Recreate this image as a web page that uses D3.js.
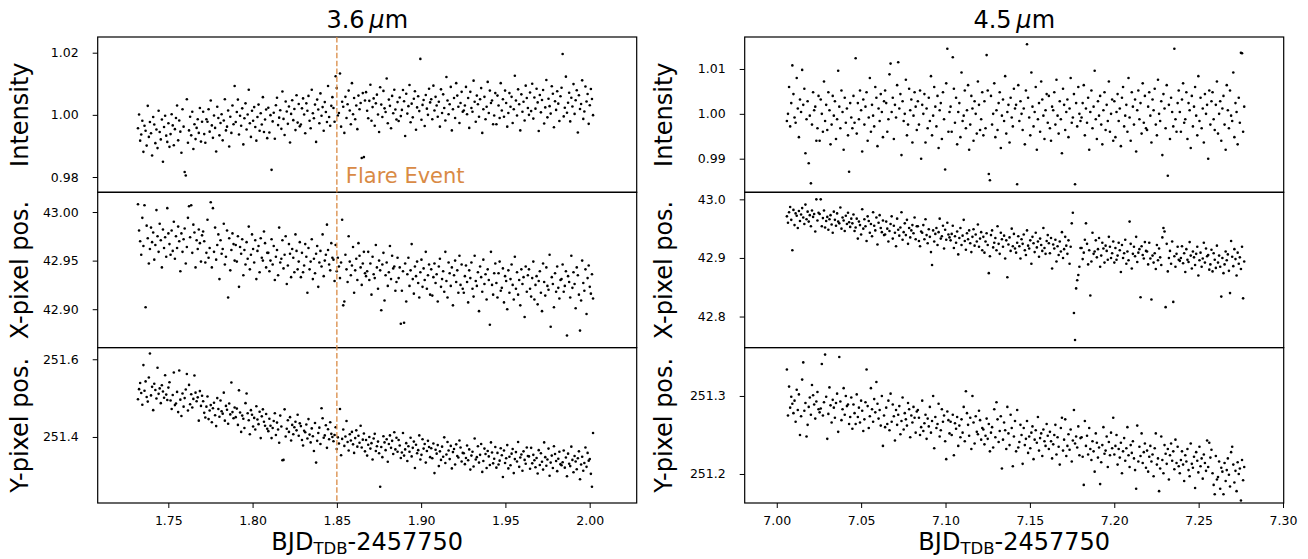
<!DOCTYPE html>
<html>
<head>
<meta charset="utf-8">
<script src="https://cdn.jsdelivr.net/npm/d3@7"></script>
<style>
  body { margin: 0; background: #fff; }
  text { font-family: "DejaVu Sans", sans-serif; }
</style>
</head>
<body>
<div id="chart"></div>
<script>
// exposure window of each channel (BJD_TDB - 2457750), constant cadence
const tSpan36 = [1.732, 2.002];
const tSpan45 = [7.006, 7.277];

// 3.6 micron light curve and centroids
const flux36 = [
  0.9957,1.0001,0.9917,0.9937,0.9981,0.9881,0.9965,0.9949,0.9901,1.0029,0.9929,0.9977,0.9941,0.9869,0.9993,0.9969,0.9909,0.9953,0.9893,1.0013,0.9945,0.9921,0.9985,0.9849,0.9961,0.9997,0.9933,0.9913,0.9973,0.9897,
  0.9938,1.0002,0.9966,0.9902,0.9954,0.9990,1.0030,0.9918,0.9982,0.9946,0.9878,1.0018,0.9962,0.9816,0.9805,1.0050,0.9910,0.9950,0.9994,0.9934,1.0010,0.9890,0.9970,0.9922,0.9958,0.9986,0.9942,1.0022,0.9914,0.9978,
  1.0010,0.9938,0.9910,0.9986,0.9978,1.0018,0.9946,1.0046,0.9966,0.9926,0.9998,0.9958,0.9882,1.0026,0.9990,0.9934,0.9974,1.0002,0.9918,0.9982,1.0050,0.9950,0.9962,1.0014,0.9898,0.9994,0.9942,1.0030,0.9970,1.0093,
  0.9977,1.0009,1.0049,0.9937,0.9997,0.9965,1.0021,0.9905,0.9989,1.0037,0.9953,1.0001,1.0081,0.9973,0.9929,1.0013,0.9981,1.0025,0.9961,0.9917,0.9993,1.0033,0.9949,1.0005,0.9969,1.0057,0.9945,0.9985,1.0017,0.9925,
  1.0023,0.9943,0.9999,0.9823,0.9979,1.0007,0.9923,1.0031,1.0055,0.9967,0.9991,1.0015,0.9955,1.0075,0.9987,0.9935,1.0043,1.0011,0.9971,1.0027,0.9911,1.0003,1.0047,0.9983,1.0019,0.9951,1.0063,0.9975,1.0035,0.9963,
  0.9969,1.0021,1.0053,1.0001,0.9941,1.0037,1.0013,1.0061,0.9981,0.9957,1.0081,1.0005,0.9989,1.0033,0.9913,1.0049,1.0017,0.9973,1.0069,0.9997,1.0025,0.9949,1.0041,1.0009,0.9977,1.0093,0.9993,0.9965,1.0029,1.0057,
  1.0022,0.9978,1.0124,1.0086,0.9998,1.0006,1.0133,0.9962,1.0042,1.0026,0.9942,1.0058,0.9990,1.0034,1.0078,1.0014,0.9970,1.0102,1.0002,1.0054,0.9986,1.0030,0.9954,1.0062,1.0018,1.0038,0.9861,1.0070,0.9864,1.0046,
  1.0073,1.0013,0.9989,1.0045,1.0097,0.9981,1.0025,1.0053,0.9965,1.0037,1.0065,1.0001,0.9945,1.0089,1.0033,0.9993,1.0077,1.0021,1.0009,1.0117,0.9973,1.0049,1.0029,0.9957,1.0061,1.0005,1.0081,1.0017,0.9985,1.0041,
  0.9980,1.0056,0.9996,1.0016,1.0080,1.0044,0.9932,1.0068,1.0004,1.0028,1.0096,0.9976,1.0036,0.9992,1.0052,1.0076,0.9952,1.0024,1.0060,1.0012,1.0180,0.9984,1.0032,1.0048,0.9964,1.0064,1.0020,1.0000,1.0084,1.0040,
  1.0050,0.9986,1.0094,1.0014,1.0058,1.0030,0.9994,1.0042,0.9962,1.0082,1.0006,1.0066,1.0022,0.9982,1.0122,1.0046,1.0002,1.0034,1.0090,0.9950,1.0018,1.0054,0.9990,1.0102,1.0062,1.0026,0.9974,1.0038,1.0074,1.0010,
  1.0014,1.0030,1.0090,1.0002,1.0054,0.9958,1.0074,1.0022,1.0010,1.0110,1.0042,0.9978,1.0062,1.0034,0.9994,1.0050,1.0086,0.9942,1.0018,1.0058,0.9986,1.0026,1.0106,1.0006,1.0078,1.0038,1.0046,0.9970,0.9998,1.0070,
  0.9970,1.0062,1.0030,0.9990,1.0102,1.0014,1.0050,0.9994,1.0078,1.0038,0.9962,1.0006,1.0070,1.0026,1.0058,0.9974,1.0018,1.0126,1.0046,0.9998,1.0082,1.0034,0.9950,1.0066,1.0010,1.0042,0.9982,1.0094,1.0054,1.0022,
  1.0000,1.0072,1.0012,1.0100,0.9988,1.0056,1.0020,1.0084,1.0040,0.9948,1.0064,1.0008,1.0048,1.0080,0.9972,1.0024,1.0112,0.9992,1.0052,1.0028,1.0004,1.0092,1.0068,0.9960,1.0044,1.0016,1.0076,1.0036,0.9980,1.0060,
  1.0087,1.0196,0.9995,1.0023,1.0123,1.0007,1.0039,1.0071,0.9979,1.0055,1.0027,1.0099,1.0003,1.0047,1.0079,0.9943,1.0063,1.0019,1.0035,1.0111,0.9987,1.0011,1.0091,1.0043,1.0067,0.9971,1.0031,1.0083,1.0051,0.9999
];
const xpos36 = [
  43.008,42.981,42.970,42.956,42.994,42.965,43.007,42.902,42.986,42.973,42.947,42.962,42.984,42.969,42.979,42.951,42.966,43.002,42.975,42.959,42.988,42.971,42.943,42.982,42.963,42.974,42.954,43.004,42.978,42.967,
  42.956,42.981,42.960,42.990,42.952,42.975,42.963,42.985,42.970,42.939,42.978,42.959,42.972,42.983,42.947,42.964,42.994,43.006,42.974,43.007,42.958,42.987,42.979,42.943,42.971,42.962,42.982,42.968,42.949,42.976,
  42.980,42.970,42.948,42.958,42.992,42.953,42.963,43.010,42.943,43.004,42.959,42.984,42.951,42.966,42.977,42.931,42.971,42.957,42.962,42.988,42.946,42.954,42.981,42.912,42.973,42.940,42.961,42.978,42.967,42.950,
  42.966,42.949,42.975,42.923,42.964,42.957,42.972,42.935,42.961,42.946,42.969,42.952,42.985,42.941,42.956,42.977,42.962,42.948,42.971,42.931,42.960,42.965,42.938,42.973,42.953,42.950,42.980,42.968,42.943,42.958,
  42.958,42.939,42.950,42.972,42.946,42.965,42.930,42.954,42.961,42.935,42.984,42.948,42.952,42.971,42.942,42.956,42.975,42.926,42.945,42.967,42.957,42.933,42.962,42.953,42.938,42.977,42.960,42.941,42.949,42.969,
  42.933,42.958,42.938,42.945,42.967,42.954,42.917,42.963,42.941,42.949,42.972,42.931,42.952,42.937,42.957,42.965,42.923,42.948,42.960,42.944,42.977,42.934,42.950,42.956,42.987,42.961,42.946,42.940,42.968,42.953,
  42.951,42.929,42.966,42.939,42.953,42.944,42.932,42.948,42.992,42.904,42.908,42.956,42.941,42.928,42.975,42.949,42.935,42.945,42.964,42.917,42.940,42.952,42.930,42.968,42.955,42.943,42.925,42.947,42.959,42.937,
  42.934,42.939,42.959,42.930,42.947,42.915,42.954,42.936,42.932,42.966,42.943,42.921,42.950,42.940,42.899,42.946,42.958,42.909,42.935,42.948,42.924,42.938,42.965,42.931,42.955,42.942,42.944,42.919,42.928,42.953,
  42.932,42.943,42.885,42.919,42.939,42.886,42.947,42.908,42.936,42.953,42.924,42.940,42.967,42.931,42.916,42.944,42.934,42.949,42.927,42.912,42.938,42.951,42.923,42.942,42.930,42.959,42.921,42.935,42.946,42.915,
  42.941,42.914,42.933,42.947,42.927,42.936,42.908,42.944,42.952,42.923,42.931,42.939,42.918,42.959,42.929,42.912,42.948,42.937,42.924,42.943,42.904,42.935,42.950,42.928,42.940,42.917,42.955,42.925,42.946,42.921,
  42.917,42.934,42.945,42.928,42.907,42.940,42.932,42.948,42.921,42.913,42.955,42.929,42.924,42.938,42.898,42.944,42.933,42.918,42.951,42.926,42.936,42.910,42.941,42.930,42.884,42.959,42.925,42.915,42.937,42.947,
  42.927,42.912,42.937,42.949,42.919,42.922,42.942,42.907,42.934,42.929,42.900,42.940,42.917,42.931,42.946,42.925,42.910,42.954,42.921,42.938,42.915,42.930,42.904,42.941,42.926,42.933,42.892,42.944,42.918,42.935,
  42.941,42.921,42.913,42.932,42.949,42.910,42.925,42.934,42.905,42.929,42.939,42.917,42.898,42.947,42.928,42.914,42.943,42.924,42.920,42.956,42.882,42.933,42.926,42.902,42.937,42.918,42.944,42.922,42.911,42.930,
  42.931,42.946,42.918,42.924,42.939,42.873,42.934,42.928,42.912,42.955,42.922,42.938,42.926,42.901,42.943,42.935,42.915,42.878,42.909,42.950,42.927,42.919,42.941,42.895,42.932,42.945,42.923,42.916,42.936,42.911
];
const ypos36 = [
  251.497,251.523,251.539,251.513,251.483,251.585,251.519,251.543,251.503,251.491,251.553,251.615,251.507,251.529,251.469,251.537,251.521,251.499,251.578,251.511,251.525,251.487,251.533,251.517,251.501,251.559,251.509,251.495,251.527,251.541,
  251.494,251.472,251.508,251.566,251.482,251.486,251.516,251.464,251.571,251.496,251.454,251.512,251.478,251.500,251.522,251.562,251.468,251.534,251.484,251.510,251.476,251.498,251.558,251.514,251.492,251.502,251.442,251.518,251.480,251.506,
  251.492,251.462,251.450,251.478,251.504,251.446,251.468,251.482,251.438,251.474,251.488,251.456,251.428,251.500,251.472,251.452,251.494,251.466,251.460,251.514,251.442,251.480,251.470,251.434,251.486,251.458,251.540,251.464,251.448,251.476,
  251.451,251.473,251.431,251.520,251.463,251.413,251.455,251.447,251.423,251.487,251.512,251.461,251.443,251.407,251.469,251.457,251.427,251.449,251.419,251.479,251.445,251.433,251.465,251.397,251.453,251.471,251.439,251.429,251.459,251.421,
  251.415,251.447,251.429,251.397,251.423,251.441,251.461,251.405,251.437,251.419,251.385,251.455,251.427,251.340,251.341,251.471,251.401,251.421,251.443,251.413,251.451,251.391,251.431,251.407,251.425,251.439,251.417,251.457,251.403,251.435,
  251.428,251.392,251.378,251.416,251.412,251.432,251.396,251.446,251.406,251.386,251.422,251.402,251.364,251.436,251.334,251.390,251.410,251.424,251.382,251.474,251.448,251.398,251.404,251.430,251.372,251.420,251.394,251.438,251.408,251.400,
  251.389,251.405,251.425,251.369,251.399,251.383,251.472,251.353,251.395,251.419,251.377,251.401,251.441,251.387,251.365,251.407,251.391,251.413,251.381,251.359,251.397,251.417,251.375,251.403,251.385,251.429,251.373,251.393,251.409,251.363,
  251.392,251.352,251.380,251.400,251.370,251.384,251.342,251.396,251.408,251.364,251.376,251.388,251.358,251.272,251.374,251.348,251.402,251.386,251.366,251.394,251.336,251.382,251.404,251.372,251.390,251.356,251.412,251.368,251.398,251.362,
  251.392,251.378,251.346,251.360,251.410,251.352,251.368,251.384,251.338,251.376,251.362,251.398,251.350,251.372,251.388,251.320,251.380,251.358,251.366,251.404,251.342,251.354,251.394,251.370,251.382,251.334,251.364,251.390,251.374,251.348,
  251.371,251.345,251.383,251.307,251.367,251.357,251.379,251.325,251.363,251.341,251.375,251.349,251.399,251.333,251.355,251.387,251.365,251.343,251.377,251.319,251.361,251.369,251.329,251.381,251.351,251.347,251.391,251.373,251.337,251.359,
  251.358,251.330,251.346,251.378,251.340,251.368,251.316,251.352,251.362,251.324,251.396,251.342,251.348,251.376,251.334,251.354,251.382,251.310,251.338,251.370,251.356,251.320,251.364,251.350,251.328,251.386,251.360,251.332,251.344,251.374,
  251.321,251.359,251.329,251.339,251.371,251.353,251.297,251.365,251.333,251.345,251.379,251.319,251.349,251.327,251.357,251.369,251.307,251.343,251.361,251.337,251.387,251.323,251.347,251.355,251.313,251.363,251.341,251.331,251.373,251.351,
  251.350,251.318,251.372,251.332,251.354,251.340,251.322,251.346,251.306,251.366,251.328,251.358,251.336,251.316,251.386,251.348,251.326,251.342,251.370,251.300,251.334,251.352,251.320,251.376,251.356,251.338,251.312,251.344,251.362,251.330,
  251.327,251.335,251.365,251.321,251.347,251.299,251.357,251.331,251.325,251.375,251.341,251.309,251.351,251.337,251.317,251.345,251.363,251.291,251.329,251.349,251.313,251.333,251.373,251.323,251.359,251.339,251.343,251.305,251.272,251.410
];

// 4.5 micron light curve and centroids
const flux45 = [
  0.9984,1.0000,1.0060,0.9972,1.0024,1.0108,1.0044,0.9992,0.9980,1.0080,1.0012,0.9948,1.0032,1.0004,1.0098,1.0020,1.0056,0.9912,0.9988,1.0028,0.9890,0.9996,0.9845,0.9976,1.0048,1.0008,1.0016,0.9940,0.9968,1.0040,
  0.9940,1.0032,1.0000,0.9960,1.0072,0.9984,1.0020,0.9964,1.0048,1.0008,0.9932,0.9976,1.0040,0.9996,1.0028,0.9944,0.9988,1.0096,1.0016,0.9968,1.0052,1.0004,0.9920,1.0036,0.9980,1.0012,0.9952,0.9871,1.0024,0.9992,
  0.9968,1.0040,0.9980,1.0124,0.9956,1.0024,0.9988,1.0052,1.0008,0.9916,1.0032,0.9976,1.0016,1.0048,0.9940,0.9992,1.0080,0.9960,1.0020,0.9996,0.9972,1.0060,1.0036,0.9928,1.0012,0.9984,1.0044,1.0004,0.9948,1.0028,
  1.0052,1.0024,0.9960,0.9988,1.0088,1.0112,1.0004,1.0036,0.9944,1.0020,0.9992,1.0064,1.0115,1.0012,1.0044,0.9908,1.0028,0.9984,1.0000,1.0076,0.9952,0.9976,1.0056,1.0008,1.0032,0.9936,0.9996,1.0048,1.0016,0.9964,
  1.0028,0.9976,1.0052,0.9900,1.0020,1.0000,1.0044,0.9936,1.0012,0.9968,1.0036,0.9984,1.0084,0.9952,0.9996,1.0060,1.0016,0.9972,1.0040,0.9924,1.0008,1.0024,0.9944,1.0048,0.9988,0.9876,1.0068,1.0145,0.9960,1.0004,
  1.0016,0.9960,1.0126,1.0056,0.9980,1.0036,0.9932,1.0004,1.0024,0.9948,1.0092,0.9984,0.9996,1.0052,0.9968,1.0008,1.0064,0.9920,0.9976,1.0040,1.0012,0.9940,1.0028,1.0000,0.9956,1.0072,1.0020,0.9964,0.9988,1.0048,
  0.9952,1.0028,0.9968,1.0131,1.0052,0.9866,0.9852,1.0040,0.9976,1.0000,1.0068,0.9948,1.0008,0.9964,1.0024,1.0048,0.9924,0.9996,1.0032,0.9984,1.0084,0.9956,1.0004,1.0020,0.9936,1.0036,0.9992,0.9972,1.0056,1.0012,
  1.0020,0.9843,1.0064,0.9984,1.0028,1.0000,0.9964,1.0012,0.9932,1.0052,1.0155,1.0036,0.9992,0.9952,1.0092,1.0016,0.9972,1.0004,1.0060,0.9920,0.9988,1.0024,0.9960,1.0072,1.0032,0.9996,0.9944,1.0008,1.0044,0.9980,
  1.0040,0.9968,0.9940,1.0016,1.0008,1.0048,0.9976,1.0076,0.9996,0.9956,1.0028,0.9988,0.9912,1.0056,1.0020,0.9964,1.0004,1.0032,0.9948,1.0012,1.0080,0.9980,0.9992,1.0044,0.9843,1.0024,0.9972,1.0060,1.0000,0.9984,
  0.9992,1.0024,1.0064,0.9952,1.0012,0.9980,1.0036,0.9920,1.0004,1.0052,0.9968,1.0016,1.0096,0.9988,0.9944,1.0028,0.9996,1.0040,0.9976,0.9932,1.0008,1.0048,0.9964,1.0020,0.9984,1.0072,0.9960,1.0000,1.0032,0.9940,
  1.0028,0.9948,1.0004,1.0044,0.9984,1.0012,0.9928,1.0036,1.0060,0.9972,0.9996,1.0020,0.9960,1.0080,0.9992,0.9940,1.0048,1.0016,0.9976,1.0032,0.9916,1.0008,1.0052,0.9988,1.0024,0.9956,1.0068,0.9980,1.0040,0.9968,
  0.9964,1.0016,1.0048,0.9996,0.9936,1.0032,1.0008,1.0056,0.9976,0.9952,1.0076,1.0000,0.9984,1.0028,0.9908,1.0044,1.0012,0.9968,1.0064,0.9862,1.0020,0.9944,1.0036,1.0004,0.9972,1.0145,0.9988,0.9960,1.0024,1.0052,
  1.0004,0.9960,1.0032,1.0068,0.9980,0.9988,1.0048,0.9944,1.0024,1.0008,0.9924,1.0040,0.9972,1.0016,1.0060,0.9996,0.9952,1.0084,0.9984,1.0036,0.9968,1.0012,0.9936,1.0044,1.0000,1.0020,0.9900,1.0052,0.9976,1.0028,
  1.0048,0.9988,0.9964,1.0020,1.0072,0.9956,1.0000,1.0028,0.9940,1.0012,1.0040,0.9976,0.9920,1.0064,1.0008,0.9968,1.0052,0.9996,0.9984,1.0092,0.9948,1.0024,1.0004,0.9932,1.0036,0.9980,1.0136,1.0135,0.9960,1.0016
];
const xpos45 = [
  42.971,42.960,42.978,42.987,42.965,42.913,42.982,42.956,42.976,42.972,42.951,42.980,42.963,42.974,42.985,42.969,42.958,42.991,42.966,42.979,42.962,42.973,42.954,42.981,42.970,42.975,42.945,43.000,42.964,42.977,
  42.975,43.000,42.954,42.968,42.981,42.952,42.963,42.970,42.948,42.966,42.973,42.957,42.943,42.979,42.965,42.955,42.976,42.962,42.959,42.986,42.950,42.969,42.964,42.946,42.972,42.958,42.977,42.961,42.953,42.967,
  42.959,42.974,42.946,42.952,42.967,42.933,42.962,42.956,42.940,42.983,42.950,42.966,42.954,42.929,42.971,42.963,42.943,42.958,42.937,42.978,42.955,42.947,42.969,42.923,42.960,42.973,42.951,42.944,42.964,42.939,
  42.940,42.962,42.950,42.928,42.946,42.958,42.971,42.933,42.955,42.943,42.920,42.967,42.948,42.938,42.952,42.978,42.931,42.944,42.959,42.939,42.965,42.924,42.951,42.935,42.947,42.956,42.942,42.969,42.932,42.954,
  42.954,42.929,42.920,42.945,42.943,42.956,42.932,42.966,42.939,42.925,42.949,42.936,42.910,42.888,42.947,42.928,42.941,42.951,42.922,42.944,42.967,42.933,42.937,42.955,42.916,42.948,42.931,42.960,42.940,42.935,
  42.930,42.941,42.955,42.917,42.937,42.926,42.945,42.906,42.934,42.951,42.922,42.938,42.965,42.929,42.914,42.942,42.932,42.947,42.925,42.910,42.936,42.949,42.921,42.940,42.928,42.957,42.919,42.933,42.944,42.913,
  42.936,42.909,42.928,42.942,42.922,42.874,42.903,42.939,42.947,42.918,42.926,42.934,42.913,42.954,42.924,42.907,42.943,42.932,42.919,42.938,42.899,42.930,42.867,42.923,42.935,42.912,42.950,42.920,42.941,42.916,
  42.909,42.926,42.937,42.920,42.899,42.932,42.924,42.940,42.913,42.905,42.947,42.921,42.916,42.930,42.890,42.936,42.925,42.910,42.943,42.918,42.928,42.902,42.933,42.922,42.912,42.951,42.917,42.907,42.929,42.939,
  42.925,42.908,42.934,42.882,42.923,42.916,42.931,42.894,42.920,42.905,42.928,42.911,42.944,42.900,42.915,42.936,42.921,42.907,42.930,42.890,42.919,42.959,42.977,42.806,42.760,42.848,42.862,42.871,42.885,42.917,
  42.917,42.898,42.909,42.931,42.959,42.924,42.889,42.913,42.836,42.894,42.943,42.907,42.911,42.930,42.901,42.915,42.934,42.885,42.904,42.926,42.916,42.892,42.921,42.912,42.897,42.936,42.919,42.900,42.908,42.928,
  42.892,42.917,42.897,42.904,42.926,42.913,42.876,42.922,42.900,42.908,42.931,42.890,42.911,42.896,42.962,42.924,42.882,42.907,42.919,42.903,42.936,42.893,42.909,42.915,42.833,42.920,42.905,42.899,42.927,42.912,
  42.911,42.889,42.926,42.899,42.829,42.904,42.892,42.908,42.881,42.922,42.896,42.916,42.901,42.888,42.935,42.951,42.945,42.816,42.924,42.877,42.900,42.912,42.890,42.928,42.825,42.903,42.885,42.907,42.919,42.897,
  42.895,42.900,42.920,42.891,42.908,42.876,42.915,42.897,42.893,42.927,42.904,42.882,42.911,42.901,42.888,42.907,42.919,42.870,42.896,42.909,42.885,42.899,42.926,42.892,42.916,42.903,42.905,42.880,42.889,42.914,
  42.877,42.908,42.897,42.883,42.921,42.892,42.904,42.885,42.834,42.900,42.874,42.889,42.911,42.896,42.906,42.878,42.840,42.929,42.902,42.886,42.915,42.898,42.870,42.909,42.890,42.901,42.881,42.919,42.831,42.894
];
const ypos45 = [
  251.334,251.275,251.312,251.285,251.299,251.290,251.278,251.294,251.267,251.308,251.282,251.302,251.250,251.274,251.321,251.343,251.281,251.291,251.248,251.263,251.286,251.298,251.276,251.314,251.301,251.289,251.271,251.293,251.305,251.283,
  251.279,251.284,251.341,251.275,251.292,251.353,251.299,251.245,251.277,251.311,251.288,251.266,251.295,251.285,251.272,251.291,251.303,251.254,251.350,251.293,251.269,251.283,251.310,251.276,251.300,251.287,251.289,251.264,251.273,251.298,
  251.258,251.289,251.278,251.264,251.302,251.273,251.285,251.266,251.294,251.281,251.255,251.270,251.292,251.334,251.287,251.259,251.274,251.310,251.283,251.267,251.296,251.279,251.318,251.290,251.271,251.282,251.262,251.300,251.236,251.275,
  251.260,251.285,251.264,251.294,251.256,251.303,251.267,251.289,251.274,251.243,251.282,251.263,251.276,251.287,251.251,251.268,251.298,251.257,251.278,251.270,251.262,251.291,251.283,251.247,251.275,251.266,251.286,251.272,251.253,251.280,
  251.282,251.272,251.250,251.260,251.294,251.255,251.265,251.276,251.245,251.271,251.261,251.286,251.253,251.268,251.300,251.233,251.273,251.259,251.264,251.290,251.248,251.256,251.283,251.267,251.275,251.242,251.219,251.280,251.269,251.252,
  251.267,251.250,251.276,251.224,251.265,251.258,251.273,251.236,251.262,251.247,251.270,251.253,251.286,251.242,251.306,251.278,251.263,251.249,251.272,251.232,251.300,251.266,251.239,251.274,251.254,251.251,251.281,251.269,251.244,251.259,
  251.257,251.238,251.249,251.271,251.245,251.264,251.229,251.253,251.260,251.234,251.283,251.247,251.292,251.270,251.241,251.255,251.274,251.207,251.244,251.266,251.256,251.232,251.286,251.252,251.237,251.276,251.259,251.210,251.248,251.268,
  251.229,251.282,251.234,251.241,251.263,251.250,251.213,251.259,251.237,251.245,251.268,251.227,251.248,251.233,251.253,251.261,251.219,251.244,251.256,251.240,251.273,251.230,251.246,251.252,251.223,251.257,251.242,251.236,251.264,251.249,
  251.232,251.254,251.242,251.220,251.238,251.250,251.263,251.225,251.247,251.235,251.212,251.259,251.272,251.230,251.244,251.270,251.223,251.236,251.251,251.231,251.257,251.216,251.243,251.282,251.239,251.248,251.234,251.261,251.224,251.246,
  251.247,251.222,251.186,251.268,251.236,251.249,251.225,251.259,251.232,251.218,251.242,251.229,251.203,251.252,251.240,251.221,251.234,251.187,251.215,251.237,251.260,251.226,251.230,251.248,251.209,251.241,251.224,251.253,251.233,251.272,
  251.225,251.236,251.250,251.212,251.232,251.221,251.240,251.201,251.229,251.246,251.217,251.233,251.260,251.224,251.209,251.237,251.227,251.242,251.220,251.205,251.181,251.262,251.216,251.235,251.223,251.252,251.214,251.228,251.239,251.208,
  251.230,251.203,251.222,251.236,251.216,251.225,251.197,251.233,251.252,251.212,251.220,251.178,251.207,251.248,251.218,251.201,251.237,251.226,251.213,251.232,251.193,251.224,251.239,251.217,251.229,251.206,251.244,251.214,251.235,251.210,
  251.201,251.218,251.229,251.212,251.191,251.224,251.216,251.232,251.205,251.197,251.239,251.213,251.208,251.222,251.182,251.228,251.217,251.202,251.235,251.210,251.220,251.194,251.225,251.214,251.204,251.243,251.209,251.240,251.221,251.231,
  251.201,251.186,251.174,251.223,251.193,251.196,251.216,251.181,251.208,251.203,251.174,251.214,251.191,251.205,251.220,251.199,251.184,251.228,251.235,251.212,251.189,251.204,251.178,251.215,251.200,251.207,251.166,251.218,251.192,251.209
];

// ticks and labels
const xTicks36 = [1.75, 1.80, 1.85, 1.90, 1.95, 2.00];
const xTicks45 = [7.00, 7.05, 7.10, 7.15, 7.20, 7.25, 7.30];
const fluxTicks36 = [0.98, 1.00, 1.02];
const xposTicks36 = [42.90, 42.95, 43.00];
const yposTicks36 = [251.4, 251.6];
const fluxTicks45 = [0.99, 1.00, 1.01];
const xposTicks45 = [42.8, 42.9, 43.0];
const yposTicks45 = [251.2, 251.3];
const rowLabels = ["Intensity", "X-pixel pos.", "Y-pixel pos."];
const bands = ["3.6", "4.5"];
const flareTime = 1.85;
const flareLabel = "Flare Event";

const width = 1308, height = 559;
const flareColor = "#d98a45";

var svg = d3.select("#chart")
  .append("svg")
    .attr("width", width)
    .attr("height", height);

var rowTops = [37, 192.3, 347.6],
  plotBottom = 503;

var columns = [
  {
    left: 97.7, right: 636.7, span: tSpan36, xDomain: [1.7081, 2.0279], xTicks: xTicks36,
    series: [flux36, xpos36, ypos36],
    yDomains: [[0.97508, 1.02505], [42.8605, 43.0203], [251.230, 251.630]],
    yTicks: [fluxTicks36, xposTicks36, yposTicks36],
    yFormats: [".2f", ".2f", ".1f"],
    band: bands[0], labelX: 27.5
  },
  {
    left: 744.7, right: 1283.7, span: tSpan45, xDomain: [6.9810, 7.3004], xTicks: xTicks45,
    series: [flux45, xpos45, ypos45],
    yDomains: [[0.98251, 1.01713], [42.747, 43.012], [251.1628, 251.362]],
    yTicks: [fluxTicks45, xposTicks45, yposTicks45],
    yFormats: [".2f", ".1f", ".1f"],
    band: bands[1], labelX: 672
  }
];

columns.forEach(function(col, c) {
  var x = d3.scaleLinear()
    .domain(col.xDomain)
    .range([col.left, col.right]);

  col.series.forEach(function(values, k) {
    var top = rowTops[k],
      bottom = k < 2 ? rowTops[k + 1] : plotBottom;

    // sample times, one per exposure
    var n = values.length;
    var times = d3.range(n).map(i => col.span[0] + (col.span[1] - col.span[0]) * i / (n - 1));

    var y = d3.scaleLinear()
      .domain(col.yDomains[k])
      .range([bottom, top]);

    var g = svg.append('g').attr('class', 'panel');

    // points
    g.selectAll('circle')
      .data(values)
      .enter()
      .append('circle')
        .attr('cx', (d, i) => x(times[i]))
        .attr('cy', d => y(d))
        .attr('r', 1.3)
        .style('fill', '#000');

    // y axis
    var yAxis = g.append('g')
      .attr('transform', `translate(${col.left},0)`)
      .call(d3.axisLeft(y)
        .tickValues(col.yTicks[k])
        .tickFormat(d3.format(col.yFormats[k]))
        .tickSize(5)
        .tickPadding(14));
    yAxis.select('.domain').remove();
    yAxis.selectAll('line').style('stroke', '#000').style('stroke-width', 1);
    yAxis.selectAll('text')
      .style('font-family', '"DejaVu Sans", sans-serif')
      .style('font-size', '12.5px')
      .style('fill', '#000');

    // x axis on the bottom row only
    if (k == 2) {
      var xAxis = g.append('g')
        .attr('transform', `translate(0,${plotBottom})`)
        .call(d3.axisBottom(x)
          .tickValues(col.xTicks)
          .tickFormat(d3.format(".2f"))
          .tickSize(5)
          .tickPadding(8.5));
      xAxis.select('.domain').remove();
      xAxis.selectAll('line').style('stroke', '#000').style('stroke-width', 1);
      xAxis.selectAll('text')
        .style('font-family', '"DejaVu Sans", sans-serif')
        .style('font-size', '12.5px')
        .style('fill', '#000');
    }

    // frame
    g.append('rect')
      .attr('x', col.left)
      .attr('y', top)
      .attr('width', col.right - col.left)
      .attr('height', bottom - top)
      .style('fill', 'none')
      .style('stroke', '#000')
      .style('stroke-width', 1.2);

    // row label
    svg.append('text')
      .attr('transform', `translate(${col.labelX},${(top + bottom) / 2}) rotate(-90)`)
      .attr('text-anchor', 'middle')
      .style('font-size', '24px')
      .text(rowLabels[k]);
  });

  // title
  var title = svg.append('text')
    .attr('x', (col.left + col.right) / 2)
    .attr('y', 28)
    .attr('text-anchor', 'middle')
    .style('font-size', '24px');
  title.append('tspan').text(col.band + '\u2009');
  title.append('tspan').style('font-style', 'italic').text('\u03bc');
  title.append('tspan').text('m');

  // x label
  var xLabel = svg.append('text')
    .attr('x', (col.left + col.right) / 2)
    .attr('y', 550)
    .attr('text-anchor', 'middle')
    .style('font-size', '24px');
  xLabel.append('tspan').text('BJD');
  xLabel.append('tspan').attr('dy', 4).style('font-size', '16.5px').text('TDB');
  xLabel.append('tspan').attr('dy', -4).text('-2457750');

  // flare marker on the 3.6 micron column
  if (c == 0) {
    svg.append('line')
      .attr('x1', x(flareTime))
      .attr('x2', x(flareTime))
      .attr('y1', rowTops[0])
      .attr('y2', plotBottom)
      .style('stroke', flareColor)
      .style('stroke-width', 1.3)
      .style('stroke-dasharray', '5.5,2.4');

    svg.append('text')
      .attr('x', x(flareTime) + 9)
      .attr('y', 182.5)
      .style('font-size', '21px')
      .style('fill', flareColor)
      .text(flareLabel);
  }
});
</script>
</body>
</html>
